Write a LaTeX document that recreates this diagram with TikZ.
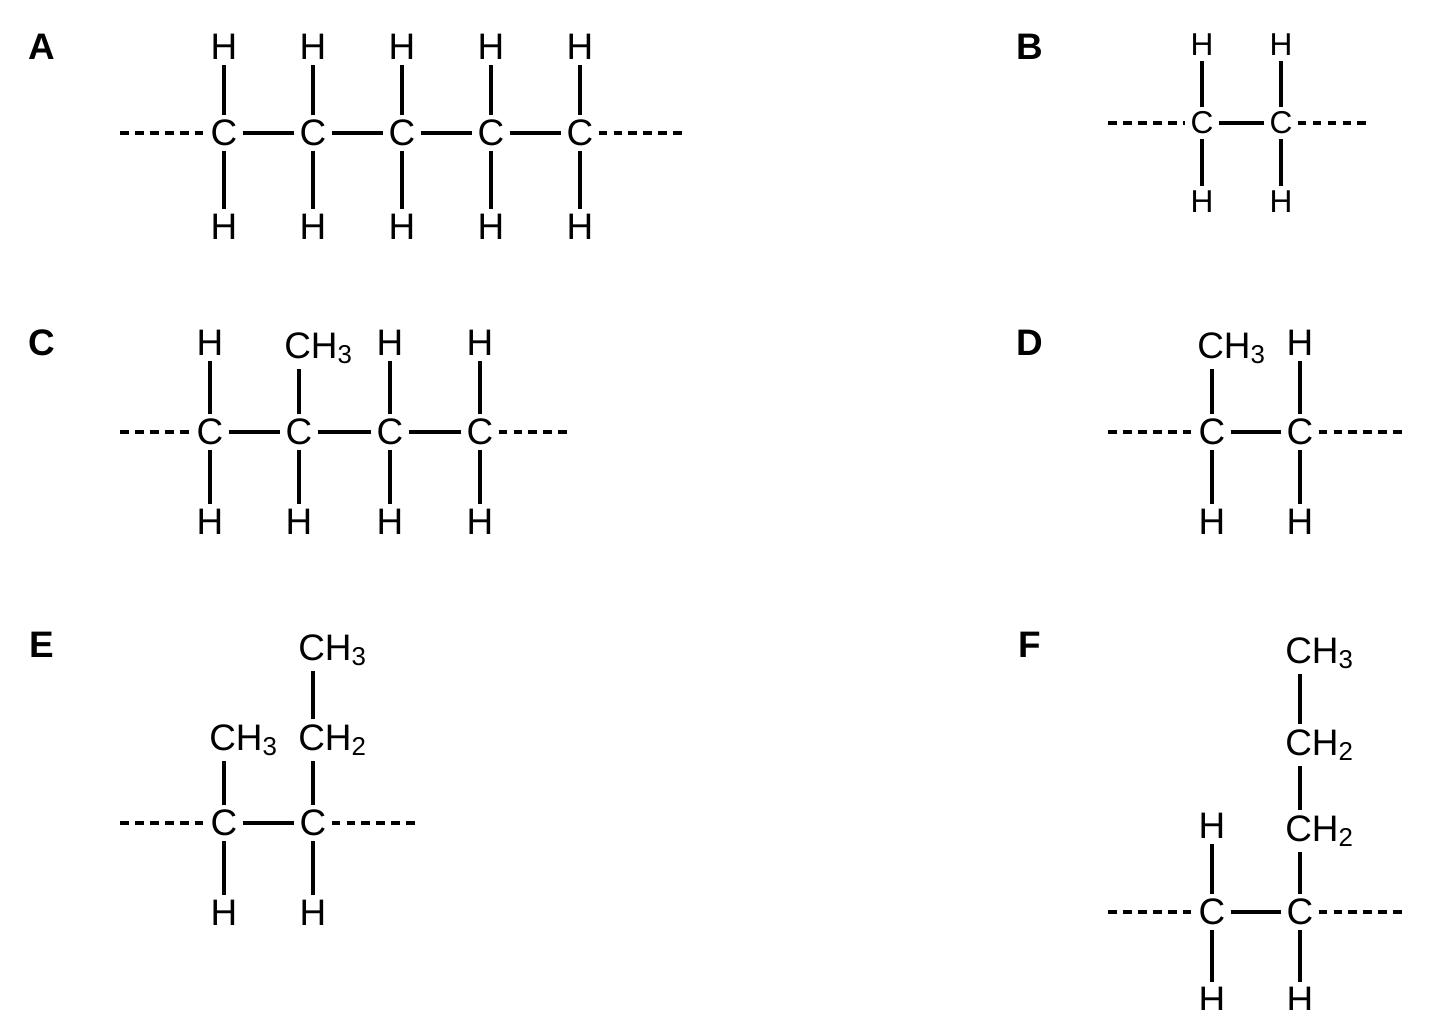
\documentclass[tikz,border=0pt]{standalone}
\usepackage{fontspec}
\setmainfont{Liberation Sans}
\begin{document}
\begin{tikzpicture}[x=0.02cm, y=-0.02cm, line width=2pt,
  atom/.style={inner sep=2pt, font=\fontsize{21}{21}\selectfont},
  small/.style={inner sep=2pt, font=\fontsize{18}{18}\selectfont},
  grp/.style={atom, anchor=west, xshift=-0.4cm},
  panel/.style={font=\bfseries\fontsize{21}{21}\selectfont},
  chain/.style={dash pattern=on 5pt off 3.5pt}]
  \useasboundingbox (0,0) rectangle (1431,1010);
  % labels
  \node[panel] (la) at (42,47) {A};
  \node[panel] (lb) at (1030,47) {B};
  \node[panel] (lc) at (42,343) {C};
  \node[panel] (ld) at (1030,343) {D};
  \node[panel] (le) at (42,645) {E};
  \node[panel] (lf) at (1030,645) {F};
  % A
  \foreach \i/\x in {1/224,2/313,3/402,4/491,5/580}{
    \node[atom] (a\i) at (\x,133) {C};
    \node[atom] (a\i t) at (\x,47) {H};
    \node[atom] (a\i b) at (\x,227) {H};
    \draw (a\i) -- (a\i t);
    \draw (a\i) -- (a\i b);
  }
  \foreach \i/\j in {1/2,2/3,3/4,4/5} \draw (a\i) -- (a\j);
  \coordinate (al) at (120,133);
  \coordinate (ar) at (688,133);
  \draw[chain] (al) -- (a1);
  \draw[chain] (a5) -- (ar);
  % B
  \foreach \i/\x in {1/1202,2/1281}{
    \node[small] (b\i) at (\x,123) {C};
    \node[small] (b\i t) at (\x,45) {H};
    \node[small] (b\i b) at (\x,202) {H};
    \draw (b\i) -- (b\i t);
    \draw (b\i) -- (b\i b);
  }
  \draw (b1) -- (b2);
  \coordinate (bl) at (1108,123);
  \coordinate (br) at (1372,123);
  \draw[chain] (bl) -- (b1);
  \draw[chain] (b2) -- (br);
  % C
  \foreach \i/\x in {1/210,2/299,3/390,4/480}{
    \node[atom] (c\i) at (\x,432) {C};
    \node[atom] (c\i b) at (\x,522) {H};
    \draw (c\i) -- (c\i b);
  }
  \node[atom] (c1t) at (210,343) {H};
  \node[grp] (c2t) at (299,348) {CH\textsubscript{3}};
  \node[atom] (c3t) at (390,343) {H};
  \node[atom] (c4t) at (480,343) {H};
  \draw (c1) -- (c1t);
  \draw (c2.north) -- (c2.north |- c2t.south);
  \draw (c3) -- (c3t);
  \draw (c4) -- (c4t);
  \foreach \i/\j in {1/2,2/3,3/4} \draw (c\i) -- (c\j);
  \coordinate (cl) at (120,432);
  \coordinate (cr) at (572,432);
  \draw[chain] (cl) -- (c1);
  \draw[chain] (c4) -- (cr);
  % D
  \node[atom] (d1) at (1212,432) {C};
  \node[atom] (d2) at (1300,432) {C};
  \node[grp] (d1t) at (1212,348) {CH\textsubscript{3}};
  \node[atom] (d2t) at (1300,343) {H};
  \node[atom] (d1b) at (1212,522) {H};
  \node[atom] (d2b) at (1300,522) {H};
  \draw (d1.north) -- (d1.north |- d1t.south);
  \draw (d2) -- (d2t);
  \draw (d1) -- (d1b);
  \draw (d2) -- (d2b);
  \draw (d1) -- (d2);
  \coordinate (dl) at (1108,432);
  \coordinate (dr) at (1408,432);
  \draw[chain] (dl) -- (d1);
  \draw[chain] (d2) -- (dr);
  % E
  \node[atom] (e1) at (224,823) {C};
  \node[atom] (e2) at (313,823) {C};
  \node[grp] (e1t) at (224,740) {CH\textsubscript{3}};
  \node[grp] (e2t) at (313,740) {CH\textsubscript{2}};
  \node[grp] (e3t) at (313,650) {CH\textsubscript{3}};
  \node[atom] (e1b) at (224,913) {H};
  \node[atom] (e2b) at (313,913) {H};
  \draw (e1.north) -- (e1.north |- e1t.south);
  \draw (e2.north) -- (e2.north |- e2t.south);
  \draw (e2.north |- e2t.north) -- (e2.north |- e3t.south);
  \draw (e1) -- (e1b);
  \draw (e2) -- (e2b);
  \draw (e1) -- (e2);
  \coordinate (el) at (120,823);
  \coordinate (er) at (420,823);
  \draw[chain] (el) -- (e1);
  \draw[chain] (e2) -- (er);
  % F
  \node[atom] (f1) at (1212,912) {C};
  \node[atom] (f2) at (1300,912) {C};
  \node[atom] (f1t) at (1212,826) {H};
  \node[grp] (f2t) at (1300,831) {CH\textsubscript{2}};
  \node[grp] (f3t) at (1300,745) {CH\textsubscript{2}};
  \node[grp] (f4t) at (1300,653) {CH\textsubscript{3}};
  \node[atom] (f1b) at (1212,1000) {H};
  \node[atom] (f2b) at (1300,1000) {H};
  \draw (f1) -- (f1t);
  \draw (f2.north) -- (f2.north |- f2t.south);
  \draw (f2.north |- f2t.north) -- (f2.north |- f3t.south);
  \draw (f2.north |- f3t.north) -- (f2.north |- f4t.south);
  \draw (f1) -- (f1b);
  \draw (f2) -- (f2b);
  \draw (f1) -- (f2);
  \coordinate (fl) at (1108,912);
  \coordinate (fr) at (1408,912);
  \draw[chain] (fl) -- (f1);
  \draw[chain] (f2) -- (fr);
\end{tikzpicture}
\end{document}
